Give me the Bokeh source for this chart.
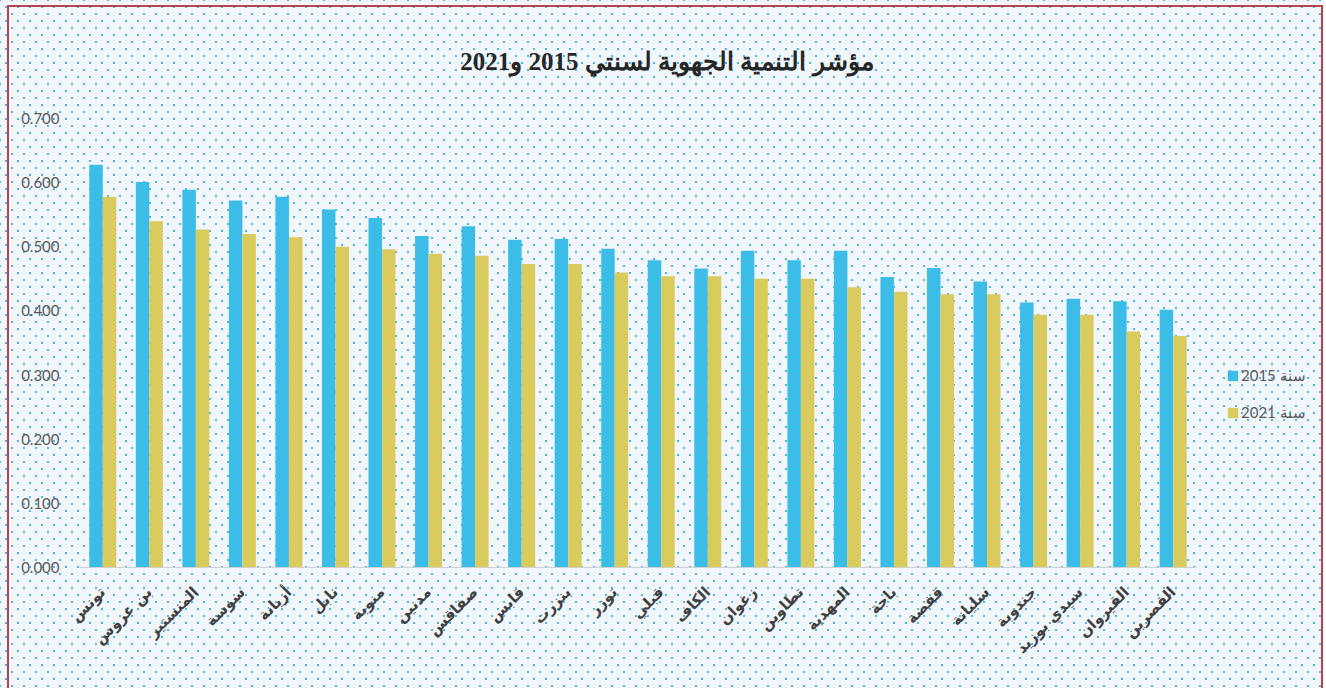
from math import pi
from bokeh.plotting import figure
from bokeh.models import (ColumnDataSource, Range1d, Legend, LegendItem,
                          NumeralTickFormatter, FixedTicker)
from bokeh.transform import dodge
from bokeh.embed import file_html
from bokeh.resources import INLINE

regions = ["تونس", "بن عروس", "المنستير", "سوسة", "أريانة", "نابل", "منوبة", "مدنين",
           "صفاقس", "قابس", "بنزرت", "توزر", "قبلي", "الكاف", "زغوان", "تطاوين",
           "المهدية", "باجة", "قفصة", "سليانة", "جندوبة", "سيدي بوزيد", "القيروان", "القصرين"]
v2015 = [0.628, 0.601, 0.589, 0.572, 0.578, 0.558, 0.545, 0.517, 0.532, 0.511, 0.512, 0.497,
         0.479, 0.466, 0.494, 0.479, 0.494, 0.453, 0.467, 0.446, 0.413, 0.419, 0.415, 0.402]
v2021 = [0.578, 0.540, 0.527, 0.520, 0.515, 0.500, 0.496, 0.489, 0.486, 0.473, 0.473, 0.460,
         0.454, 0.454, 0.450, 0.450, 0.437, 0.430, 0.426, 0.426, 0.394, 0.394, 0.368, 0.361]
y_ticks = [0.0, 0.1, 0.2, 0.3, 0.4, 0.5, 0.6, 0.7]
title_text = "مؤشر التنمية الجهوية لسنتي 2015 و2021"
labels = ["سنة 2015", "سنة 2021"]

BLUE = "#3BBDE8"
YELLOW = "#D9CB5E"
BG = "#F1F6FA"
DOT = "#4DB6E4"
RED = "#B5434C"

W, H = 1324, 688
FL, FT, FB = 79, 118, 567      # frame edges in page pixels
FR = W - 10                    # frame runs on to hold the legend
CAT_PX = 46.54                 # width of one region slot in pixels

n = len(regions)
idx = list(range(n))
src = ColumnDataSource(data=dict(idx=idx, region=regions, v2015=v2015, v2021=v2021))

x_end = -0.5 + (FR - FL) / CAT_PX
p = figure(x_range=Range1d(-0.5, x_end), y_range=Range1d(0, 0.7),
           width=W, height=H, output_backend="svg", toolbar_location=None,
           min_border_left=FL, min_border_right=W - FR, min_border_top=FT,
           min_border_bottom=H - FB)

# transparent canvas so the dotted page background (CSS) shows through
p.background_fill_alpha = 0
p.border_fill_alpha = 0
p.outline_line_color = None

line = f"linear-gradient({RED}, {RED})"
dots = (f"{line} 7px 5px / 2px 100% no-repeat, "
        f"{line} 7px 5px / 1316px 2px no-repeat, "
        f"{line} 1321px 5px / 2px 100% no-repeat, "
        f"radial-gradient(circle, {DOT} 0.9px, rgba(0,0,0,0) 1.5px) 0px 0px / 12px 14px, "
        f"radial-gradient(circle, {DOT} 0.9px, rgba(0,0,0,0) 1.5px) 6px 7px / 12px 14px, "
        f"{BG}")
p.styles = {"background": dots}

r1 = p.vbar(x=dodge("idx", -0.145), top="v2015", width=0.29,
            source=src, fill_color=BLUE, line_color=None)
r2 = p.vbar(x=dodge("idx", 0.145), top="v2021", width=0.29,
            source=src, fill_color=YELLOW, line_color=None)

p.xgrid.visible = False
p.ygrid.visible = False

p.yaxis.ticker = FixedTicker(ticks=y_ticks)
p.yaxis.formatter = NumeralTickFormatter(format="0.000")
p.yaxis.axis_line_color = None
p.yaxis.major_tick_line_color = None
p.yaxis.minor_tick_line_color = None
p.yaxis.major_label_text_font = "Lato"
p.yaxis.major_label_text_font_size = "15px"
p.yaxis.major_label_text_color = "#595959"
p.yaxis.major_label_standoff = 14

p.xaxis.ticker = FixedTicker(ticks=idx)
p.xaxis.major_label_overrides = {i: name for i, name in zip(idx, regions)}
p.xaxis.bounds = (-0.5, n - 0.5)
p.xaxis.axis_line_color = "#D0D0D0"
p.xaxis.axis_line_width = 1
p.xaxis.major_tick_line_color = None
p.xaxis.minor_tick_line_color = None
p.xaxis.major_label_orientation = pi / 4
p.xaxis.major_label_text_font = "DejaVu Sans"
p.xaxis.major_label_text_font_style = "bold"
p.xaxis.major_label_text_font_size = "15px"
p.xaxis.major_label_text_color = "#404040"
p.xaxis.major_label_standoff = 16

p.title.text = title_text
p.title.align = "right"
p.title.offset = FR - 873
p.title.standoff = 88
p.title.text_font = "Liberation Serif"
p.title.text_font_style = "bold"
p.title.text_font_size = "25px"
p.title.text_color = "#262626"

legend = Legend(items=[LegendItem(label=labels[0], renderers=[r1]),
                       LegendItem(label=labels[1], renderers=[r2])],
                location=(1226 - FL, FB - 422), padding=0, margin=0, spacing=17,
                glyph_width=13, glyph_height=13, label_height=20, label_standoff=2,
                background_fill_alpha=0, border_line_color=None,
                label_text_font="Lato", label_text_font_size="15px",
                label_text_color="#595959")
p.add_layout(legend)

open("out.html", "w").write(file_html(p, INLINE))
